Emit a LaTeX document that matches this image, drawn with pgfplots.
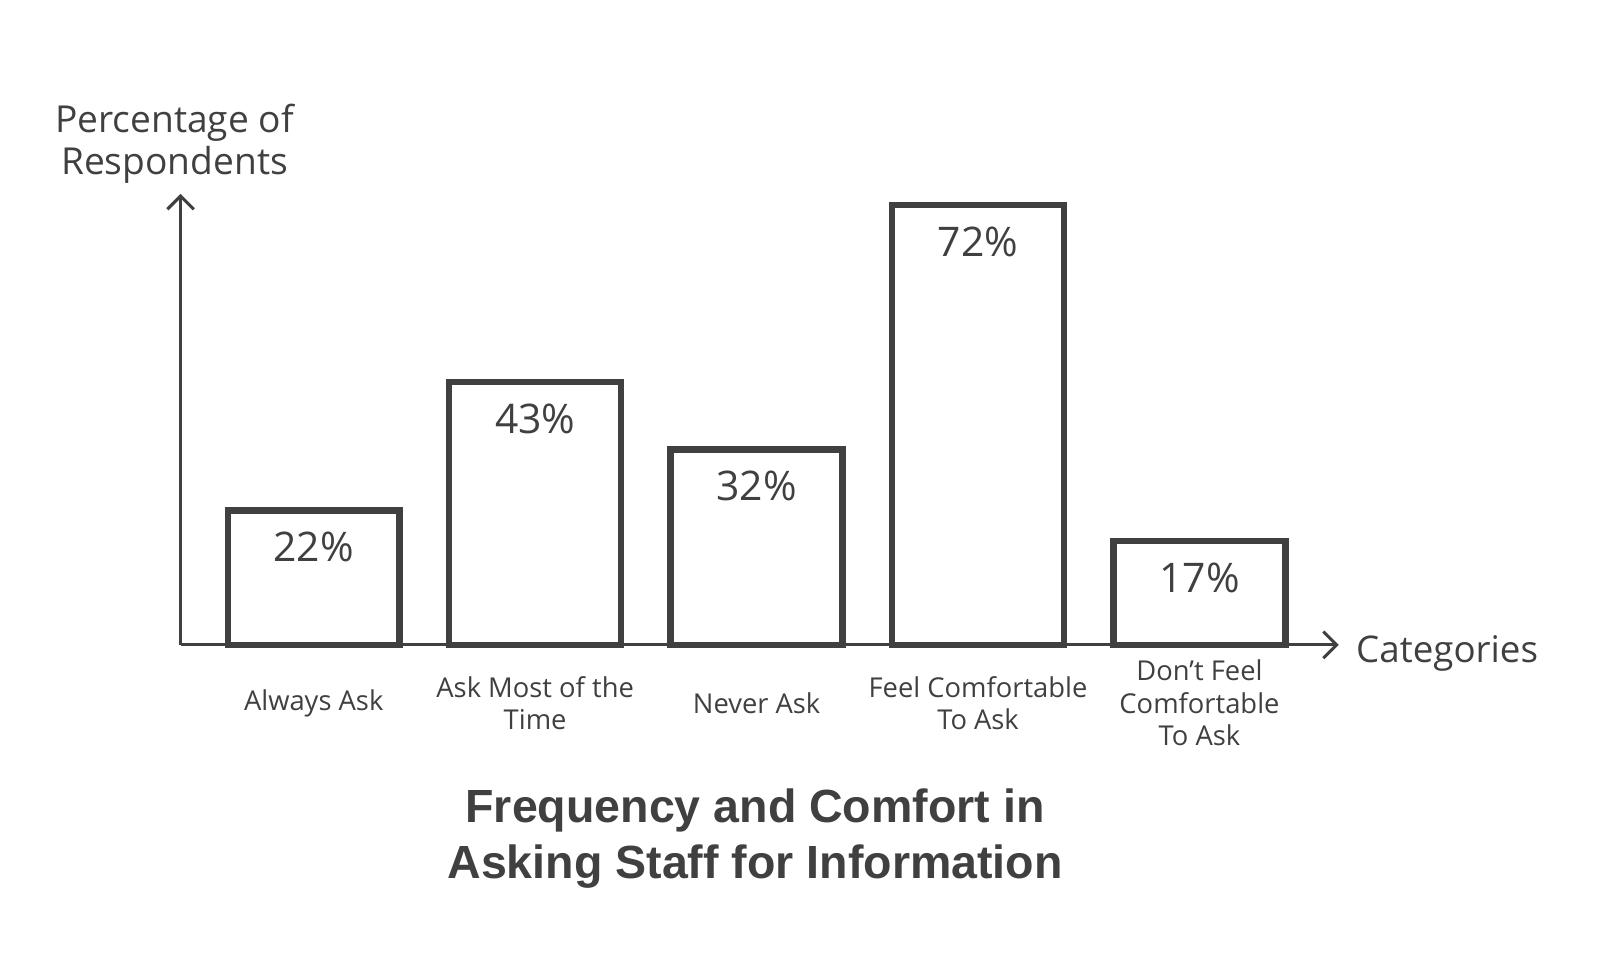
\documentclass[border=0pt]{standalone}
\usepackage{pgfplots}
\pgfplotsset{compat=1.18}
\usetikzlibrary{arrows.meta}
\usepackage{fontspec}
\setmainfont{Open Sans}
\newfontfamily\titlefont{Liberation Sans}
\definecolor{ink}{HTML}{404040}
\begin{document}
\begin{tikzpicture}
\useasboundingbox (-88.5pt,-154pt) rectangle (695.5pt,316pt);
\begin{axis}[
  scale only axis,
  width=567.5pt, height=221pt,
  xmin=-0.601, xmax=4.629,
  ymin=0, ymax=73.8,
  axis lines=left,
  axis line style={draw=ink, line width=1.5pt, -{Straight Barb[length=6.5pt,width=13pt,line width=1.5pt]}},
  ytick=\empty,
  xtick={0,1,2,3,4},
  xticklabels={Always Ask, {Ask Most of the\\Time}, Never Ask, {Feel Comfortable\\To Ask}, {Don't Feel\\Comfortable\\To Ask}},
  major tick length=0pt,
  xticklabel style={anchor=center, yshift=-28.5pt, align=center, text=ink, font=\fontsize{13.4}{16}\selectfont},
  clip=false,
  ybar, bar width=0.776,
  nodes near coords={\pgfmathprintnumber[assume math mode=true]{\pgfplotspointmeta}\%},
  every node near coord/.append style={anchor=center, yshift=-18pt, text=ink, font=\fontsize{20}{22}\selectfont},
  title={Frequency and Comfort in\\Asking Staff for Information},
  title style={at={(0.496,-0.457)}, anchor=center, align=center, text=ink, font=\titlefont\bfseries\fontsize{22.8}{27.5}\selectfont},
  ylabel={Percentage of\\Respondents},
  ylabel style={at={(-0.0053,1.111)}, rotate=-90, anchor=center, align=center, text=ink, font=\fontsize{18.2}{21}\selectfont},
  xlabel={Categories},
  xlabel style={at={(1.0088,-0.018)}, anchor=west, text=ink, font=\fontsize{18}{22}\selectfont},
]
\addplot[draw=ink, fill=white, line width=3.2pt] coordinates {(0,22) (1,43) (2,32) (3,72) (4,17)};
\end{axis}
\end{tikzpicture}
\end{document}
